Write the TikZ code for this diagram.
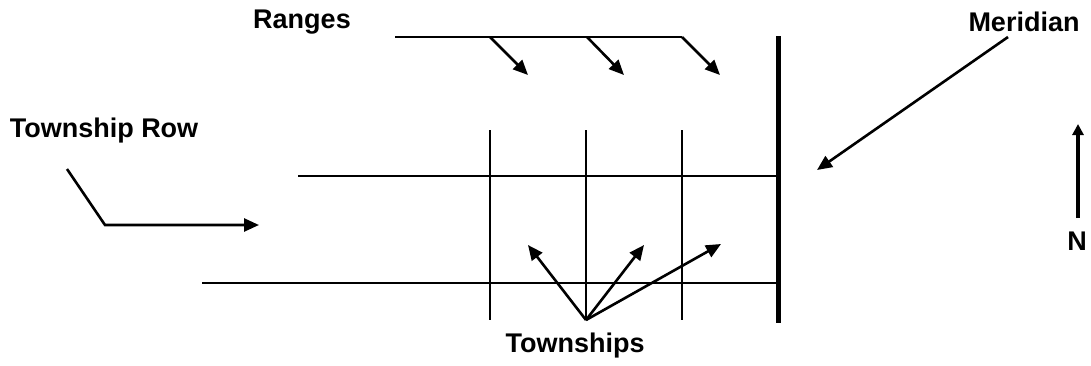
\documentclass[tikz,border=0pt]{standalone}
\usepackage{fontspec}
\setmainfont{Liberation Sans}
\usetikzlibrary{arrows.meta}
\begin{document}
\begin{tikzpicture}[x=1pt,y=-1pt,
  lbl/.style={font=\fontsize{27}{32}\selectfont\bfseries, inner sep=0pt},
  grid/.style={line width=2.2pt},
  ptr/.style={line width=2.6pt, -{Triangle[length=15pt,width=13pt]}},
  meridianline/.style={line width=5pt}]
\useasboundingbox (0,0) rectangle (1091,365);
% labels
\node[lbl] (ranges) at (302,22) {Ranges};
\node[lbl] (meridian) at (1024,22) {Meridian};
\node[lbl] (trow) at (104,131) {Township Row};
\node[lbl] (townships) at (575,346) {Townships};
\node[lbl] (north) at (1077,241) {N};
% grid coordinates
\coordinate (h1a) at (298,176); \coordinate (h1b) at (778,176);
\coordinate (h2a) at (202,283); \coordinate (h2b) at (778,283);
\coordinate (v1a) at (490,130); \coordinate (v1b) at (490,320);
\coordinate (v2a) at (586,130); \coordinate (v2b) at (586,320);
\coordinate (v3a) at (682,130); \coordinate (v3b) at (682,320);
\coordinate (ma) at (778,36); \coordinate (mb) at (778,323);
\draw[grid] (h1a) -- (h1b);
\draw[grid] (h2a) -- (h2b);
\draw[grid] (v1a) -- (v1b);
\draw[grid] (v2a) -- (v2b);
\draw[grid] (v3a) -- (v3b);
\draw[meridianline] (ma) -- (mb);
% ranges pointer
\coordinate (r0) at (395,37);
\coordinate (r1) at (490,37); \coordinate (r2) at (587,37); \coordinate (r3) at (682,37);
\coordinate (t1) at (528,75); \coordinate (t2) at (624,75); \coordinate (t3) at (720,75);
\draw[line width=2.6pt] (r0) -- (r3);
\draw[ptr] (r1) -- (t1);
\draw[ptr] (r2) -- (t2);
\draw[ptr] (r3) -- (t3);
% meridian pointer
\coordinate (m0) at (1008,37); \coordinate (m1) at (817,170);
\draw[ptr] (m0) -- (m1);
% township row pointer
\coordinate (w0) at (67,169); \coordinate (w1) at (105,225); \coordinate (w2) at (259,225);
\draw[ptr] (w0) -- (w1) -- (w2);
% townships pointers
\coordinate (s0) at (586,320);
\coordinate (s1) at (528,245); \coordinate (s2) at (644,245); \coordinate (s3) at (721,244);
\draw[ptr] (s0) -- (s1);
\draw[ptr] (s0) -- (s2);
\draw[ptr] (s0) -- (s3);
% north arrow
\coordinate (n0) at (1078,218); \coordinate (n1) at (1078,124);
\draw[line width=4.5pt, -{Triangle[length=11pt,width=11pt]}] (n0) -- (n1);
\end{tikzpicture}
\end{document}
